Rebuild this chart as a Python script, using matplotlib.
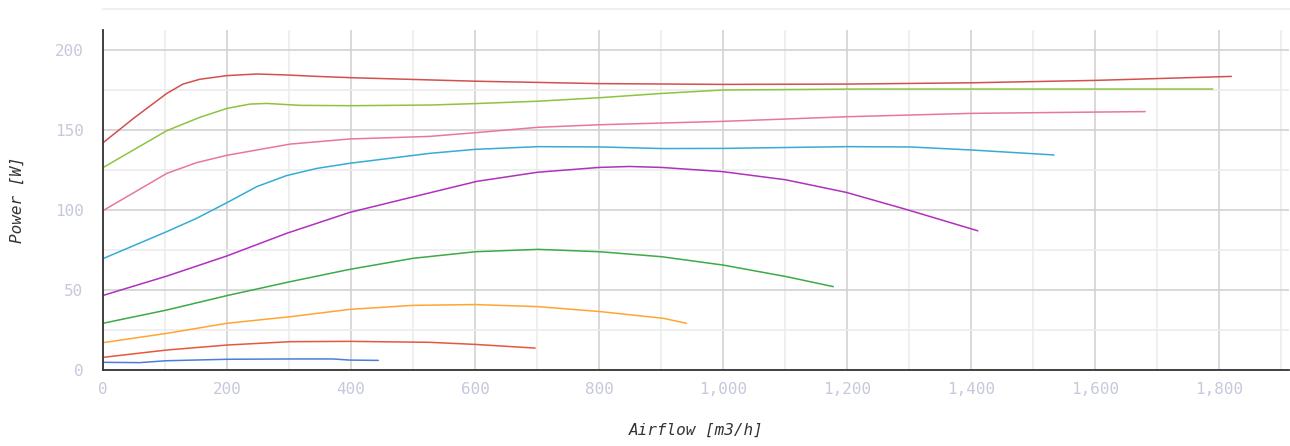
import matplotlib
matplotlib.use("Agg")
import matplotlib.pyplot as plt
from matplotlib.lines import Line2D
from matplotlib.ticker import MultipleLocator, FuncFormatter

# fan curves (airflow m3/h, power W)
x_c1 = [0, 50, 103, 129, 156, 200, 248, 296, 345, 400, 600, 800, 1000, 1200, 1400, 1600, 1820]
y_c1 = [142, 157.5, 172.9, 178.7, 181.7, 184, 185, 184.4, 183.5, 182.7, 180.5, 179, 178.5, 178.7, 179.5, 181, 183.5]

x_c2 = [0, 103, 156, 200, 237, 264, 318, 400, 527, 600, 702, 802, 903, 1000, 1221, 1790]
y_c2 = [126.5, 149.6, 157.9, 163.5, 166.2, 166.6, 165.4, 165.2, 165.6, 166.5, 168, 170.2, 172.9, 175, 175.6, 175.6]

x_c3 = [0, 103, 151, 200, 248, 302, 398, 527, 600, 702, 802, 1000, 1200, 1401, 1600, 1681]
y_c3 = [99.6, 122.9, 129.6, 134.2, 137.5, 141.2, 144.4, 146, 148.3, 151.7, 153.3, 155.4, 158.3, 160.4, 161.2, 161.5]

x_c4 = [0, 103, 151, 200, 248, 296, 345, 398, 527, 600, 702, 802, 903, 1000, 1200, 1302, 1401, 1534]
y_c4 = [69.6, 86.5, 94.8, 104.6, 114.6, 121.5, 126, 129.2, 135.4, 137.9, 139.6, 139.4, 138.4, 138.5, 139.6, 139.4, 137.5, 134.4]

x_c5 = [0, 103, 200, 296, 398, 480, 603, 701, 800, 849, 901, 999, 1101, 1199, 1297, 1411]
y_c5 = [46.6, 58.7, 71.3, 85.4, 98.5, 106.3, 117.9, 123.6, 126.6, 127.2, 126.6, 124, 118.9, 111, 100.2, 87]

x_c6 = [0, 103, 200, 302, 398, 500, 600, 702, 802, 901, 1000, 1103, 1178]
y_c6 = [29.2, 37.5, 46.5, 55.2, 62.9, 69.8, 73.9, 75.4, 73.9, 70.8, 65.6, 58.3, 52.1]

x_c7 = [0, 103, 200, 302, 398, 500, 600, 702, 802, 904, 941]
y_c7 = [17.1, 22.9, 29.2, 33.3, 37.9, 40.4, 40.9, 39.6, 36.5, 32.3, 29.2]

x_c8 = [0, 103, 200, 302, 398, 527, 600, 697]
y_c8 = [7.9, 12.5, 15.6, 17.7, 17.9, 17.3, 16.0, 13.7]

x_c9 = [0, 59, 103, 200, 302, 371, 398, 444]
y_c9 = [4.8, 4.6, 5.8, 6.7, 6.9, 6.9, 6.2, 6.0]

curves = [
    (x_c1, y_c1, "#d2504f"),
    (x_c2, y_c2, "#8cc43f"),
    (x_c3, y_c3, "#e8779c"),
    (x_c4, y_c4, "#35acd6"),
    (x_c5, y_c5, "#b030c0"),
    (x_c6, y_c6, "#3caa48"),
    (x_c7, y_c7, "#ffa632"),
    (x_c8, y_c8, "#e8573c"),
    (x_c9, y_c9, "#4c7ddc"),
]

MONO = "DejaVu Sans Mono"
TICK_COLOR = "#c6c9dc"
LABEL_COLOR = "#333333"

fig = plt.figure(figsize=(12.9, 4.46), dpi=100)
ax = fig.add_axes([103 / 1290, 76 / 446, 1186 / 1290, 340 / 446])

for xs, ys, col in curves:
    ax.plot(xs, ys, color=col, linewidth=1.1, solid_joinstyle="round",
            solid_capstyle="round")

ax.set_xlim(0, 1913)
ax.set_ylim(0, 212.5)

ax.xaxis.set_major_locator(MultipleLocator(200))
ax.xaxis.set_minor_locator(MultipleLocator(100))
ax.yaxis.set_major_locator(MultipleLocator(50))
ax.yaxis.set_minor_locator(MultipleLocator(25))
ax.xaxis.set_major_formatter(FuncFormatter(lambda v, p: f"{int(v):,}"))

ax.grid(which="major", color="#d2d2d2", linewidth=1.2)
ax.grid(which="minor", color="#ececec", linewidth=1.2)
ax.set_axisbelow(True)

for side in ["top", "right"]:
    ax.spines[side].set_visible(False)
for side in ["left", "bottom"]:
    ax.spines[side].set_color("#333333")
    ax.spines[side].set_linewidth(1.3)

ax.tick_params(which="both", length=0)
ax.tick_params(axis="y", pad=14)
ax.tick_params(axis="x", pad=9)
for lab in ax.get_xticklabels() + ax.get_yticklabels():
    lab.set_fontfamily(MONO)
    lab.set_fontsize(11.5)
    lab.set_color(TICK_COLOR)

ax.set_xlabel("Airflow [m3/h]", family=MONO, style="italic", fontsize=11.5,
              color=LABEL_COLOR)
ax.set_ylabel("Power [W]", family=MONO, style="italic", fontsize=11.5,
              color=LABEL_COLOR)
ax.xaxis.set_label_coords(0.5, -0.155)
ax.yaxis.set_label_coords(-0.066, 0.5)

# faint line at the very top of the chart area
fig.add_artist(Line2D([103 / 1290, 1], [1 - 9 / 446, 1 - 9 / 446],
                      transform=fig.transFigure, color="#ececec", linewidth=1.2))

fig.savefig("out.png", dpi=100)
